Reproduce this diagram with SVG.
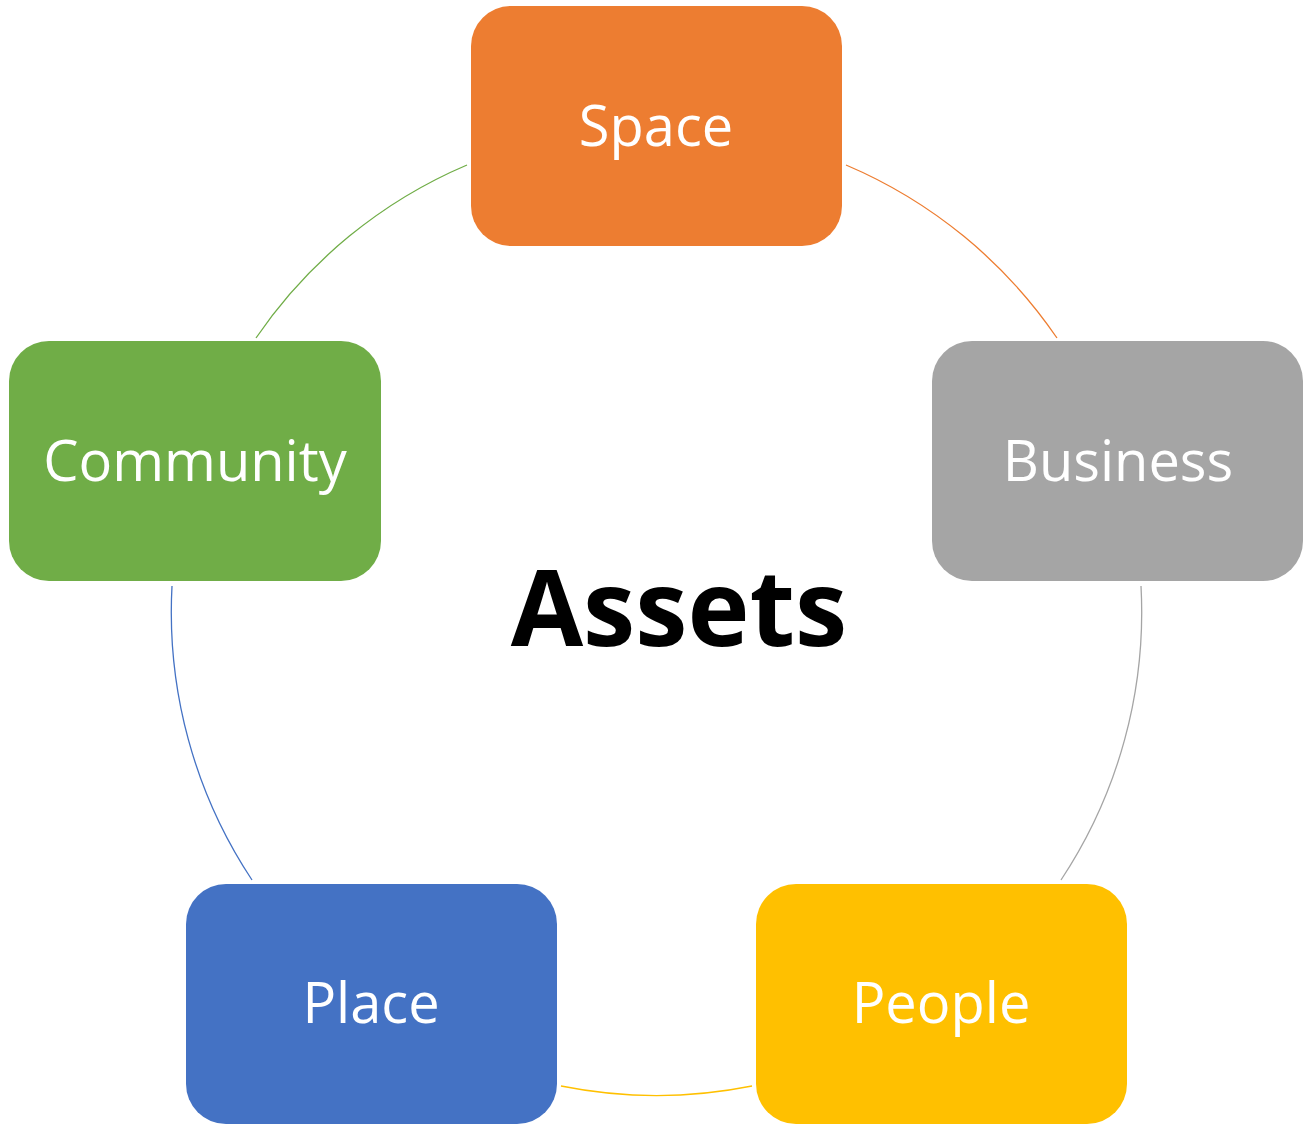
<svg xmlns="http://www.w3.org/2000/svg" width="1306" height="1124" viewBox="0 0 1306 1124">
<style>
.box{stroke:none}
.lbl{font-family:"Open Sans","Noto Sans",sans-serif;font-size:56px;fill:#fff;text-anchor:middle}
.arc{fill:none;stroke-width:1.3}
.title{font-family:"Open Sans","Noto Sans",sans-serif;font-size:105px;font-weight:bold;fill:#000;text-anchor:middle}
</style>
<rect width="1306" height="1124" fill="#fff"/>
<g id="connectors">
<path class="arc" stroke="#ED7D31" d="M846,165 A485,485 0 0 1 1057,338"/>
<path class="arc" stroke="#A5A5A5" d="M1141,586 A485,485 0 0 1 1061,880"/>
<path class="arc" stroke="#FFC000" d="M752,1086 A485,485 0 0 1 561,1086"/>
<path class="arc" stroke="#4472C4" d="M252,880 A485,485 0 0 1 172,586"/>
<path class="arc" stroke="#70AD47" d="M256,338 A485,485 0 0 1 467,165"/>
</g>
<g id="space"><rect class="box" x="471" y="6" width="371" height="240" rx="40" fill="#ED7D31"/><text class="lbl" x="656" y="146">Space</text></g>
<g id="business"><rect class="box" x="932" y="341" width="371" height="240" rx="40" fill="#A5A5A5"/><text class="lbl" x="1118" y="481">Business</text></g>
<g id="people"><rect class="box" x="756" y="884" width="371" height="240" rx="40" fill="#FFC000"/><text class="lbl" x="941" y="1023">People</text></g>
<g id="place"><rect class="box" x="186" y="884" width="371" height="240" rx="40" fill="#4472C4"/><text class="lbl" x="371" y="1023">Place</text></g>
<g id="community"><rect class="box" x="9" y="341" width="372" height="240" rx="40" fill="#70AD47"/><text class="lbl" x="195" y="481">Community</text></g>
<g id="assets"><text class="title" x="679" y="646">Assets</text></g>
</svg>
